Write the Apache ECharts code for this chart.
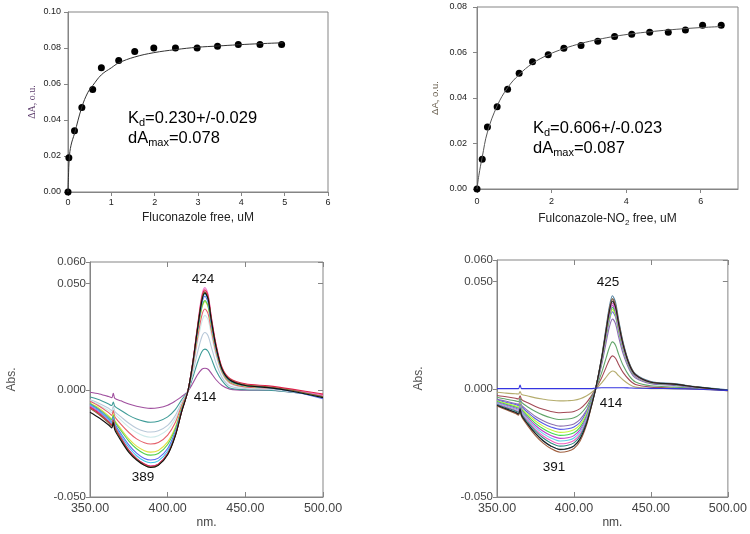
<!DOCTYPE html>
<html><head><meta charset="utf-8">
<script src="https://cdn.jsdelivr.net/npm/echarts@6/dist/echarts.min.js"></script>
<style>html,body{margin:0;padding:0;background:#fff}#c{width:750px;height:534px}</style>
</head><body><div id="c"></div>
<script>
// ---------- top-left: Fluconazole titration ----------
const fluX = [0, 0.02, 0.15, 0.32, 0.57, 0.77, 1.17, 1.54, 1.98, 2.48, 2.98, 3.45, 3.93, 4.43, 4.93];
const fluY = [0, 0.019, 0.034, 0.047, 0.057, 0.069, 0.073, 0.078, 0.080, 0.080, 0.080, 0.081, 0.082, 0.082, 0.082];
const fluFitX = [0, 0.01, 0.03, 0.07, 0.15, 0.32, 0.46, 0.57, 0.77, 1.0, 1.17, 1.54, 1.98, 2.48, 2.98, 3.45, 3.93, 4.43, 4.96];
const fluFitY = [0, 0.008, 0.019, 0.026, 0.0325, 0.0472, 0.0554, 0.0591, 0.0651, 0.0690, 0.0717, 0.0750, 0.0774, 0.0791, 0.0804, 0.0811, 0.0818, 0.0824, 0.0829];
// ---------- top-right: Fluconazole-NO2 titration ----------
const no2X = [0, 0.14, 0.28, 0.54, 0.82, 1.13, 1.49, 1.91, 2.33, 2.79, 3.24, 3.69, 4.15, 4.63, 5.13, 5.59, 6.05, 6.55];
const no2Y = [0, 0.0131, 0.0272, 0.0361, 0.0439, 0.0509, 0.0559, 0.0590, 0.0619, 0.0631, 0.0650, 0.0670, 0.0680, 0.0689, 0.0689, 0.0699, 0.0720, 0.0720];
const no2FitX = [0, 0.05, 0.14, 0.28, 0.54, 0.82, 1.13, 1.49, 1.91, 2.33, 2.79, 3.24, 3.69, 4.15, 4.63, 5.13, 5.59, 6.05, 6.55];
const no2FitY = [0, 0.006, 0.0140, 0.0250, 0.0365, 0.0445, 0.0503, 0.0552, 0.0590, 0.0617, 0.0640, 0.0657, 0.0671, 0.0682, 0.0691, 0.0699, 0.0705, 0.0710, 0.0714];
// ---------- bottom-left: difference spectra (fluconazole) ----------
const wlLeft = [350,356,362,364,365,366,370,375,380,385,389,394,400,405,409,413,416,419,422,424,426,428,431,435,440,450,465,480,500];
const specLeft = [
 [-0.0010,-0.0018,-0.0030,-0.0035,-0.0015,-0.0038,-0.0050,-0.0065,-0.0075,-0.0082,-0.0085,-0.0082,-0.0070,-0.0050,-0.0030,-0.0005,0.0030,0.0070,0.0098,0.0103,0.0098,0.0080,0.0050,0.0022,0.0005,0.0000,0.0000,-0.0010,-0.0025],
 [-0.0032,-0.0045,-0.0065,-0.0072,-0.0055,-0.0076,-0.0095,-0.0118,-0.0135,-0.0146,-0.0150,-0.0145,-0.0125,-0.0090,-0.0045,-0.0005,0.0055,0.0125,0.0180,0.0192,0.0182,0.0150,0.0095,0.0045,0.0010,0.0002,0.0000,-0.0010,-0.0025],
 [-0.0045,-0.0062,-0.0085,-0.0095,-0.0075,-0.0100,-0.0125,-0.0155,-0.0178,-0.0192,-0.0196,-0.0190,-0.0165,-0.0118,-0.0058,-0.0005,0.0075,0.0170,0.0250,0.0270,0.0255,0.0205,0.0130,0.0060,0.0020,0.0008,0.0005,-0.0008,-0.0025],
 [-0.0050,-0.0070,-0.0095,-0.0105,-0.0085,-0.0110,-0.0140,-0.0173,-0.0198,-0.0215,-0.0220,-0.0213,-0.0185,-0.0132,-0.0065,-0.0005,0.0090,0.0215,0.0320,0.0350,0.0330,0.0265,0.0165,0.0078,0.0030,0.0012,0.0008,-0.0005,-0.0025],
 [-0.0052,-0.0075,-0.0105,-0.0118,-0.0095,-0.0124,-0.0160,-0.0198,-0.0228,-0.0246,-0.0252,-0.0245,-0.0210,-0.0150,-0.0072,-0.0005,0.0100,0.0235,0.0350,0.0380,0.0358,0.0285,0.0180,0.0085,0.0035,0.0015,0.0010,-0.0003,-0.0022],
 [-0.0060,-0.0085,-0.0120,-0.0135,-0.0110,-0.0142,-0.0182,-0.0228,-0.0262,-0.0283,-0.0290,-0.0282,-0.0242,-0.0172,-0.0083,-0.0005,0.0110,0.0258,0.0385,0.0415,0.0390,0.0305,0.0192,0.0090,0.0040,0.0020,0.0012,-0.0002,-0.0028],
 [-0.0062,-0.0090,-0.0126,-0.0140,-0.0118,-0.0148,-0.0190,-0.0238,-0.0274,-0.0297,-0.0304,-0.0296,-0.0254,-0.0180,-0.0087,-0.0005,0.0112,0.0262,0.0390,0.0420,0.0395,0.0310,0.0195,0.0092,0.0042,0.0020,0.0012,-0.0003,-0.0030],
 [-0.0066,-0.0095,-0.0134,-0.0150,-0.0126,-0.0158,-0.0204,-0.0256,-0.0295,-0.0320,-0.0327,-0.0318,-0.0273,-0.0192,-0.0092,-0.0005,0.0115,0.0270,0.0405,0.0440,0.0412,0.0320,0.0200,0.0095,0.0045,0.0022,0.0012,-0.0005,-0.0040],
 [-0.0070,-0.0100,-0.0140,-0.0156,-0.0132,-0.0165,-0.0213,-0.0267,-0.0307,-0.0332,-0.0340,-0.0331,-0.0285,-0.0200,-0.0096,-0.0005,0.0118,0.0275,0.0412,0.0450,0.0420,0.0326,0.0204,0.0097,0.0046,0.0022,0.0012,-0.0005,-0.0035],
 [-0.0075,-0.0105,-0.0146,-0.0162,-0.0138,-0.0172,-0.0222,-0.0279,-0.0320,-0.0346,-0.0355,-0.0346,-0.0297,-0.0208,-0.0099,-0.0005,0.0120,0.0280,0.0420,0.0460,0.0430,0.0333,0.0208,0.0099,0.0048,0.0024,0.0014,0.0000,-0.0025],
 [-0.0085,-0.0115,-0.0152,-0.0167,-0.0143,-0.0176,-0.0230,-0.0286,-0.0322,-0.0348,-0.0358,-0.0348,-0.0299,-0.0209,-0.0100,-0.0005,0.0125,0.0290,0.0445,0.0480,0.0450,0.0350,0.0220,0.0105,0.0052,0.0027,0.0016,0.0002,-0.0025],
 [-0.0080,-0.0110,-0.0148,-0.0163,-0.0140,-0.0172,-0.0225,-0.0282,-0.0320,-0.0346,-0.0356,-0.0346,-0.0297,-0.0208,-0.0099,-0.0005,0.0122,0.0285,0.0435,0.0470,0.0442,0.0345,0.0218,0.0106,0.0055,0.0030,0.0020,0.0005,-0.0018],
 [-0.0085,-0.0115,-0.0153,-0.0168,-0.0143,-0.0178,-0.0230,-0.0286,-0.0323,-0.0350,-0.0360,-0.0350,-0.0300,-0.0210,-0.0100,-0.0005,0.0120,0.0280,0.0425,0.0460,0.0432,0.0336,0.0210,0.0100,0.0050,0.0025,0.0015,0.0000,-0.0030],
 [-0.0103,-0.0130,-0.0163,-0.0177,-0.0152,-0.0187,-0.0237,-0.0291,-0.0327,-0.0352,-0.0362,-0.0352,-0.0302,-0.0212,-0.0101,-0.0005,0.0118,0.0275,0.0418,0.0455,0.0428,0.0332,0.0208,0.0098,0.0048,0.0022,0.0012,-0.0005,-0.0035]
];
const colorsLeft = ['#a0509f','#3f9c98','#b9c9d9','#cdeaea','#e5606a','#e0e040','#50d050','#5a6af0','#40c8e8','#d040d0','#f080d0','#e0204a','#8a6a30','#111111'];
// ---------- bottom-right: difference spectra (fluconazole-NO2) ----------
const wlRight = [350,356,362,364,365,366,370,375,380,385,391,396,400,404,408,411,414,418,421,423,425,427,429,432,436,440,450,465,480,500];
const specRight = [
 [-0.0014,-0.0018,-0.0021,-0.0022,-0.0010,-0.0024,-0.0031,-0.0040,-0.0046,-0.0051,-0.0054,-0.0053,-0.0051,-0.0044,-0.0031,-0.0017,0.0000,0.0030,0.0057,0.0075,0.0085,0.0079,0.0063,0.0043,0.0022,0.0010,0.0003,0.0002,0.0000,-0.0005],
 [-0.0029,-0.0035,-0.0042,-0.0045,-0.0030,-0.0048,-0.0063,-0.0080,-0.0093,-0.0103,-0.0109,-0.0107,-0.0103,-0.0090,-0.0063,-0.0034,0.0000,0.0054,0.0104,0.0137,0.0155,0.0144,0.0115,0.0077,0.0043,0.0022,0.0010,0.0006,0.0002,-0.0005],
 [-0.0037,-0.0046,-0.0054,-0.0058,-0.0042,-0.0061,-0.0082,-0.0103,-0.0120,-0.0132,-0.0140,-0.0138,-0.0132,-0.0115,-0.0082,-0.0043,0.0000,0.0077,0.0148,0.0194,0.0220,0.0204,0.0163,0.0110,0.0061,0.0034,0.0016,0.0010,0.0004,-0.0005],
 [-0.0046,-0.0056,-0.0066,-0.0070,-0.0054,-0.0075,-0.0099,-0.0126,-0.0146,-0.0161,-0.0171,-0.0168,-0.0161,-0.0140,-0.0099,-0.0053,0.0000,0.0114,0.0220,0.0289,0.0326,0.0304,0.0243,0.0163,0.0091,0.0052,0.0026,0.0018,0.0007,-0.0005],
 [-0.0050,-0.0061,-0.0071,-0.0076,-0.0058,-0.0082,-0.0108,-0.0137,-0.0159,-0.0175,-0.0186,-0.0183,-0.0175,-0.0153,-0.0108,-0.0057,0.0000,0.0126,0.0244,0.0319,0.0360,0.0336,0.0269,0.0181,0.0101,0.0059,0.0029,0.0021,0.0008,-0.0005],
 [-0.0053,-0.0065,-0.0077,-0.0082,-0.0062,-0.0088,-0.0116,-0.0147,-0.0171,-0.0188,-0.0200,-0.0197,-0.0188,-0.0164,-0.0116,-0.0062,0.0000,0.0129,0.0249,0.0327,0.0370,0.0344,0.0275,0.0185,0.0103,0.0060,0.0030,0.0022,0.0009,-0.0005],
 [-0.0057,-0.0070,-0.0082,-0.0088,-0.0068,-0.0094,-0.0125,-0.0158,-0.0183,-0.0202,-0.0214,-0.0211,-0.0202,-0.0176,-0.0125,-0.0066,0.0000,0.0133,0.0256,0.0336,0.0380,0.0354,0.0283,0.0190,0.0106,0.0062,0.0031,0.0022,0.0009,-0.0005],
 [-0.0061,-0.0074,-0.0087,-0.0094,-0.0072,-0.0100,-0.0133,-0.0168,-0.0195,-0.0215,-0.0228,-0.0225,-0.0215,-0.0187,-0.0133,-0.0070,0.0000,0.0136,0.0263,0.0345,0.0390,0.0363,0.0290,0.0195,0.0109,0.0063,0.0032,0.0023,0.0009,-0.0005],
 [-0.0064,-0.0078,-0.0092,-0.0099,-0.0078,-0.0105,-0.0140,-0.0177,-0.0206,-0.0226,-0.0240,-0.0237,-0.0226,-0.0197,-0.0140,-0.0074,0.0000,0.0140,0.0270,0.0353,0.0400,0.0372,0.0298,0.0200,0.0112,0.0065,0.0033,0.0023,0.0009,-0.0005],
 [-0.0068,-0.0082,-0.0097,-0.0104,-0.0082,-0.0111,-0.0147,-0.0186,-0.0217,-0.0238,-0.0253,-0.0249,-0.0238,-0.0208,-0.0147,-0.0078,0.0000,0.0140,0.0270,0.0354,0.0400,0.0372,0.0298,0.0200,0.0112,0.0065,0.0033,0.0023,0.0009,-0.0005],
 [-0.0071,-0.0086,-0.0101,-0.0108,-0.0086,-0.0116,-0.0154,-0.0194,-0.0226,-0.0249,-0.0264,-0.0260,-0.0249,-0.0217,-0.0154,-0.0081,0.0000,0.0147,0.0283,0.0371,0.0420,0.0391,0.0313,0.0210,0.0117,0.0068,0.0034,0.0024,0.0010,-0.0005],
 [-0.0075,-0.0091,-0.0108,-0.0115,-0.0094,-0.0123,-0.0163,-0.0206,-0.0240,-0.0264,-0.0280,-0.0276,-0.0264,-0.0230,-0.0163,-0.0086,0.0000,0.0152,0.0293,0.0384,0.0434,0.0404,0.0323,0.0217,0.0121,0.0071,0.0036,0.0026,0.0011,-0.0003],
 [-0.0078,-0.0095,-0.0112,-0.0120,-0.0100,-0.0128,-0.0170,-0.0215,-0.0250,-0.0275,-0.0292,-0.0288,-0.0275,-0.0240,-0.0170,-0.0090,0.0000,0.0147,0.0283,0.0371,0.0420,0.0391,0.0313,0.0210,0.0117,0.0068,0.0034,0.0024,0.0010,-0.0008],
 [-0.0074,-0.0091,-0.0107,-0.0115,-0.0092,-0.0122,-0.0162,-0.0205,-0.0239,-0.0263,-0.0279,-0.0275,-0.0263,-0.0229,-0.0162,-0.0086,0.0000,0.0143,0.0276,0.0362,0.0410,0.0381,0.0305,0.0205,0.0114,0.0067,0.0033,0.0024,0.0010,-0.0005],
 [0.0003,0.0003,0.0003,0.0003,0.0020,0.0003,0.0003,0.0003,0.0003,0.0003,0.0003,0.0003,0.0003,0.0003,0.0003,0.0003,0.0005,0.0007,0.0007,0.0007,0.0007,0.0007,0.0007,0.0007,0.0006,0.0005,0.0004,0.0003,0.0000,-0.0005]
];
const colorsRight = ['#b5ad6e','#a34a55','#62a56a','#8c6fb0','#5a5ae6','#c8f040','#40d850','#c040d0','#60d0e8','#f060c0','#2a8a80','#5080a0','#a06040','#202020','#3535e0'];
// tick values / labels
const peakLabelsLeft = ['424','414','389'];
const peakLabelsRight = ['425','414','391'];

const F = 'Liberation Sans, Arial, sans-serif';
const AX = '#858585';

function topX(grid, max, interval, name, extra) {
  return Object.assign({
    gridIndex: grid, type: 'value', min: 0, max: max, interval: interval,
    axisLine: {show: true, onZero: false, lineStyle: {color: AX}},
    axisTick: {show: true, inside: false, length: 4, lineStyle: {color: AX}},
    splitLine: {show: false},
    axisLabel: {fontSize: 9, color: '#222', margin: 6, fontFamily: F},
    name: name, nameLocation: 'middle', nameGap: 20,
    nameTextStyle: {fontSize: 12, color: '#222', fontFamily: F}
  }, extra || {});
}
function topY(grid, max, extra) {
  return Object.assign({
    gridIndex: grid, type: 'value', min: 0, max: max, interval: 0.02,
    axisLine: {show: true, onZero: false, lineStyle: {color: AX}},
    axisTick: {show: true, inside: false, length: 4, lineStyle: {color: AX}},
    splitLine: {show: false},
    axisLabel: {fontSize: 9, color: '#222', margin: 7, fontFamily: F, formatter: v => v.toFixed(2)},
    nameLocation: 'middle'
  }, extra || {});
}
function specX(grid) {
  return {
    gridIndex: grid, type: 'value', min: 350, max: 500, interval: 50,
    axisLine: {show: true, onZero: false, lineStyle: {color: AX}},
    axisTick: {show: true, inside: true, length: 5, lineStyle: {color: AX}},
    splitLine: {show: false},
    axisLabel: {fontSize: 12.5, color: '#444', margin: 5, fontFamily: F, formatter: v => v.toFixed(2)},
    name: 'nm.', nameLocation: 'middle', nameGap: 20,
    nameTextStyle: {fontSize: 12, color: '#444', fontFamily: F}
  };
}
function specXTop(grid) {
  return {
    gridIndex: grid, type: 'value', min: 350, max: 500, interval: 50, position: 'top',
    axisLine: {show: false, onZero: false}, axisLabel: {show: false}, splitLine: {show: false},
    axisTick: {show: true, inside: true, length: 5, lineStyle: {color: AX}}
  };
}
function specY(grid) {
  return {
    gridIndex: grid, type: 'value', min: -0.05, max: 0.06, interval: 0.05,
    axisLine: {show: true, onZero: false, lineStyle: {color: AX}},
    axisTick: {show: true, inside: false, length: 4, lineStyle: {color: AX}},
    splitLine: {show: false},
    axisLabel: {fontSize: 11.5, color: '#444', margin: 4, fontFamily: F, formatter: v => v.toFixed(3)},
    name: 'Abs.', nameLocation: 'middle', nameGap: 72,
    nameTextStyle: {fontSize: 12, color: '#555', fontFamily: F}
  };
}
function specYRight(grid) {
  return {
    gridIndex: grid, type: 'value', min: -0.05, max: 0.06, interval: 0.05, position: 'right',
    axisLine: {show: false, onZero: false}, axisLabel: {show: false}, splitLine: {show: false},
    axisTick: {show: true, inside: true, length: 5, lineStyle: {color: AX}}
  };
}

const gridStyle = {show: true, borderColor: AX, borderWidth: 1, backgroundColor: 'transparent', containLabel: false};
const option = {
  backgroundColor: '#fff',
  animation: false,
  grid: [
    Object.assign({left: 68, top: 12, width: 260, height: 180}, gridStyle),
    Object.assign({left: 477, top: 7, width: 261, height: 182}, gridStyle),
    Object.assign({left: 90, top: 262, width: 233, height: 235}, gridStyle),
    Object.assign({left: 497, top: 260, width: 232, height: 237}, gridStyle)
  ],
  xAxis: [
    topX(0, 6, 1, 'Fluconazole free, uM'),
    topX(1, 7, 2, 'Fulconazole-NO{s|2} free, uM', {
      axisLabel: {fontSize: 9, color: '#222', margin: 8, fontFamily: F, showMaxLabel: false},
      nameGap: 22,
      nameTextStyle: {fontSize: 12, color: '#222', fontFamily: F, lineHeight: 16,
        rich: {s: {fontSize: 8, color: '#222', fontFamily: F, verticalAlign: 'bottom', lineHeight: 9}}}
    }),
    specX(2), specX(3), specXTop(2), specXTop(3)
  ],
  yAxis: [
    topY(0, 0.10, {name: 'ΔA, o.u.', nameGap: 31,
      nameTextStyle: {fontSize: 10, color: '#5b3b6b', fontFamily: 'Liberation Serif, serif'}}),
    topY(1, 0.08, {name: 'ΔA, o.u.', nameGap: 37,
      axisLabel: {fontSize: 9, color: '#222', margin: 10, fontFamily: F, formatter: v => v.toFixed(2)},
      nameTextStyle: {fontSize: 9.5, color: '#6a6050', fontFamily: F}}),
    specY(2), specY(3), specYRight(2), specYRight(3)
  ],
  series: []
};

// fits and points
option.series.push({type: 'line', xAxisIndex: 0, yAxisIndex: 0, smooth: 0.4, showSymbol: false, silent: true,
  data: fluFitX.map((x, i) => [x, fluFitY[i]]), lineStyle: {color: '#333', width: 1}});
option.series.push({type: 'scatter', xAxisIndex: 0, yAxisIndex: 0, symbolSize: 7,
  data: fluX.map((x, i) => [x, fluY[i]]), itemStyle: {color: '#000', opacity: 1}});
option.series.push({type: 'line', xAxisIndex: 1, yAxisIndex: 1, smooth: 0.4, showSymbol: false, silent: true,
  data: no2FitX.map((x, i) => [x, no2FitY[i]]), lineStyle: {color: '#555', width: 1}});
option.series.push({type: 'scatter', xAxisIndex: 1, yAxisIndex: 1, symbolSize: 7,
  data: no2X.map((x, i) => [x, no2Y[i]]), itemStyle: {color: '#000', opacity: 1}});

specLeft.forEach((vals, k) => option.series.push({
  type: 'line', xAxisIndex: 2, yAxisIndex: 2, smooth: 0.3, showSymbol: false, silent: true,
  data: wlLeft.map((w, j) => [w, vals[j]]), lineStyle: {color: colorsLeft[k], width: 1.1}
}));
specRight.forEach((vals, k) => option.series.push({
  type: 'line', xAxisIndex: 3, yAxisIndex: 3, smooth: 0.3, showSymbol: false, silent: true,
  data: wlRight.map((w, j) => [w, vals[j]]), lineStyle: {color: colorsRight[k], width: 1.1}
}));

function txt(x, y, s, size) {
  return {type: 'text', x: x, y: y, z: 100,
    style: {text: s, fontSize: size, fontFamily: F, fill: '#111', align: 'center', verticalAlign: 'middle',
      textAlign: 'center', textVerticalAlign: 'middle'}};
}
function kdText(x, y, s) {
  return {type: 'text', x: x, y: y, z: 100,
    style: {text: s, fontSize: 16.5, fontFamily: F, fill: '#000', lineHeight: 20,
      rich: {s: {fontSize: 11, fontFamily: F, fill: '#000', verticalAlign: 'bottom', lineHeight: 10}}}};
}
option.graphic = [
  kdText(128, 108, 'K{s|d}=0.230+/-0.029\ndA{s|max}=0.078'),
  kdText(533, 118, 'K{s|d}=0.606+/-0.023\ndA{s|max}=0.087'),
  txt(203, 279, peakLabelsLeft[0], 13.5),
  txt(205, 397, peakLabelsLeft[1], 13.5),
  txt(143, 477, peakLabelsLeft[2], 13.5),
  txt(608, 282, peakLabelsRight[0], 13.5),
  txt(611, 403, peakLabelsRight[1], 13.5),
  txt(554, 467, peakLabelsRight[2], 13.5)
];

const chart = echarts.init(document.getElementById('c'), null, {renderer: 'canvas'});
chart.setOption(option);
</script></body></html>
